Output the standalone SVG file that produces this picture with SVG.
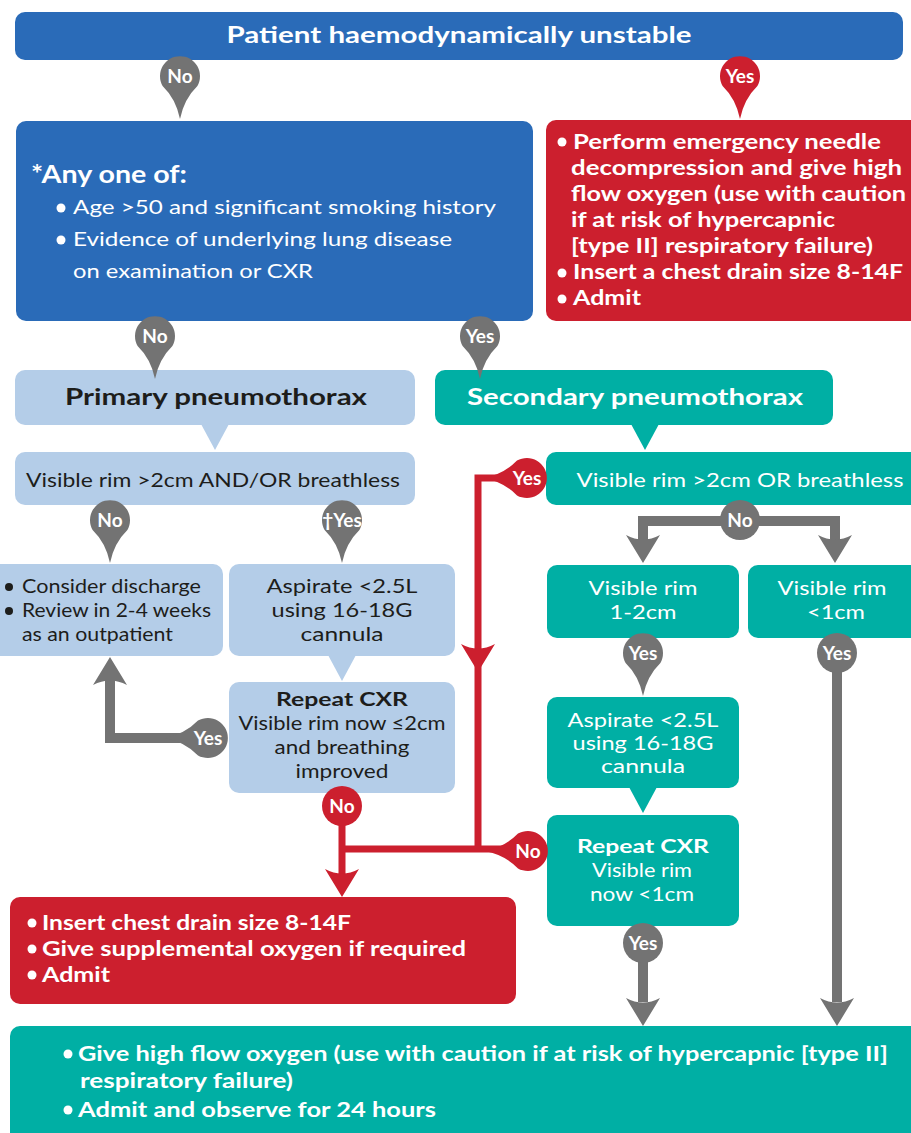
<svg xmlns="http://www.w3.org/2000/svg" xmlns:xlink="http://www.w3.org/1999/xlink" width="911" height="1133" viewBox="0 0 911 1133">
<defs>
<style>
.db{fill:#2a6bb8}.rd{fill:#cc1f2e}.lb{fill:#b4cde8}.tl{fill:#00afa4}.gr{fill:#737373}
text{font-family:Lato,"Noto Sans","Liberation Sans",sans-serif;font-size:20px}
.w{fill:#fff}.k{fill:#1d1d1b}.b{font-weight:700}.c{text-anchor:middle}
.s19{font-size:19px}.s22{font-size:22px}.s24{font-size:24px}.s195{font-size:19.5px}
.pt{font-size:19px;font-weight:700;fill:#fff;text-anchor:middle}
.lg{fill:none;stroke:#737373;stroke-width:10}
.lr{fill:none;stroke:#cc1f2e;stroke-width:7}
</style>
<path id="pin" d="M0,43 Q-4,23 -17.4,10 A20,20 0 1 1 17.4,10 Q4,23 0,43 Z"/>
<path id="ah" d="M0,0 L-17,-28 Q0,-19 17,-28 Z"/>
</defs>
<rect width="911" height="1133" fill="#fff"/>

<g id="n-top">
<rect class="db" x="15" y="12" width="888" height="48" rx="10"/>
<text class="w b s22 c" x="459" y="43" textLength="465" lengthAdjust="spacingAndGlyphs">Patient haemodynamically unstable</text>
</g>

<g id="n-anyone">
<rect class="db" x="16" y="121" width="517" height="200" rx="10"/>
<text class="w b s24" x="31" y="183" textLength="156" lengthAdjust="spacingAndGlyphs">*Any one of:</text>
<circle class="w" cx="61" cy="208" r="4.5"/>
<circle class="w" cx="61" cy="240" r="4.5"/>
<text class="w" x="73" y="214" textLength="423" lengthAdjust="spacingAndGlyphs">Age &gt;50 and significant smoking history</text>
<text class="w" x="73" y="246" textLength="379" lengthAdjust="spacingAndGlyphs">Evidence of underlying lung disease</text>
<text class="w" x="73" y="278" textLength="240" lengthAdjust="spacingAndGlyphs">on examination or CXR</text>
</g>

<g id="n-emergency">
<rect class="rd" x="546" y="120" width="380" height="201" rx="10"/>
<circle class="w" cx="562" cy="142" r="4.5"/>
<circle class="w" cx="562" cy="273" r="4.5"/>
<circle class="w" cx="562" cy="299" r="4.5"/>
<text class="w b" x="573" y="149" textLength="308" lengthAdjust="spacingAndGlyphs">Perform emergency needle</text>
<text class="w b" x="571" y="175" textLength="331" lengthAdjust="spacingAndGlyphs">decompression and give high</text>
<text class="w b" x="571" y="201" textLength="335" lengthAdjust="spacingAndGlyphs">flow oxygen (use with caution</text>
<text class="w b" x="571" y="227" textLength="264" lengthAdjust="spacingAndGlyphs">if at risk of hypercapnic</text>
<text class="w b" x="571" y="253" textLength="302" lengthAdjust="spacingAndGlyphs">[type II] respiratory failure)</text>
<text class="w b" x="573" y="279" textLength="330" lengthAdjust="spacingAndGlyphs">Insert a chest drain size 8-14F</text>
<text class="w b" x="573" y="305" textLength="68" lengthAdjust="spacingAndGlyphs">Admit</text>
</g>

<g id="n-primary">
<rect class="lb" x="15" y="370" width="400" height="55" rx="10"/>
<path class="lb" d="M201,424 L229,424 L215,450 Z"/>
<text class="k b s22 c" x="216" y="405" textLength="302" lengthAdjust="spacingAndGlyphs">Primary pneumothorax</text>
</g>

<g id="n-secondary">
<rect class="tl" x="435" y="370" width="398" height="55" rx="10"/>
<path class="tl" d="M631,424 L659,424 L645,450 Z"/>
<text class="w b s22 c" x="635" y="405" textLength="336" lengthAdjust="spacingAndGlyphs">Secondary pneumothorax</text>
</g>

<g id="n-p-rim">
<rect class="lb" x="15" y="452" width="400" height="53" rx="10"/>
<text class="k c" x="213" y="487" textLength="374" lengthAdjust="spacingAndGlyphs">Visible rim &gt;2cm AND/OR breathless</text>
</g>

<g id="n-s-rim">
<rect class="tl" x="546" y="452" width="380" height="53" rx="10"/>
<text class="w c" x="740" y="487" textLength="327" lengthAdjust="spacingAndGlyphs">Visible rim &gt;2cm OR breathless</text>
</g>

<g id="n-discharge">
<rect class="lb" x="-10" y="564" width="233" height="92" rx="10"/>
<circle class="k" cx="9" cy="587" r="4"/>
<circle class="k" cx="9" cy="611" r="4"/>
<text class="k s19" x="22" y="593" textLength="179" lengthAdjust="spacingAndGlyphs">Consider discharge</text>
<text class="k s19" x="22" y="617" textLength="189" lengthAdjust="spacingAndGlyphs">Review in 2-4 weeks</text>
<text class="k s19" x="22" y="641" textLength="151" lengthAdjust="spacingAndGlyphs">as an outpatient</text>
</g>

<g id="n-p-aspirate">
<rect class="lb" x="229" y="564" width="226" height="92" rx="10"/>
<path class="lb" d="M328,655 L356,655 L342,681 Z"/>
<text class="k c s195" x="342" y="593" textLength="151" lengthAdjust="spacingAndGlyphs">Aspirate &lt;2.5L</text>
<text class="k c s195" x="342" y="617" textLength="141" lengthAdjust="spacingAndGlyphs">using 16-18G</text>
<text class="k c s195" x="342" y="641" textLength="83" lengthAdjust="spacingAndGlyphs">cannula</text>
</g>

<g id="n-p-repeat">
<rect class="lb" x="229" y="682" width="226" height="111" rx="10"/>
<text class="k b c s195" x="342" y="706" textLength="132" lengthAdjust="spacingAndGlyphs">Repeat CXR</text>
<text class="k c s195" x="342" y="730" textLength="207" lengthAdjust="spacingAndGlyphs">Visible rim now ≤2cm</text>
<text class="k c s195" x="342" y="754" textLength="135" lengthAdjust="spacingAndGlyphs">and breathing</text>
<text class="k c s195" x="342" y="778" textLength="93" lengthAdjust="spacingAndGlyphs">improved</text>
</g>

<g id="n-s-rim12">
<rect class="tl" x="547" y="565" width="192" height="73" rx="10"/>
<text class="w c s195" x="643" y="595" textLength="109" lengthAdjust="spacingAndGlyphs">Visible rim</text>
<text class="w c s195" x="643" y="619" textLength="67" lengthAdjust="spacingAndGlyphs">1-2cm</text>
</g>

<g id="n-s-rim1">
<rect class="tl" x="748" y="565" width="180" height="73" rx="10"/>
<text class="w c s195" x="832" y="595" textLength="109" lengthAdjust="spacingAndGlyphs">Visible rim</text>
<text class="w c s195" x="836" y="619" textLength="58" lengthAdjust="spacingAndGlyphs">&lt;1cm</text>
</g>

<g id="n-s-aspirate">
<rect class="tl" x="547" y="697" width="192" height="91" rx="10"/>
<path class="tl" d="M629,787 L657,787 L643,813 Z"/>
<text class="w c s195" x="643" y="727" textLength="151" lengthAdjust="spacingAndGlyphs">Aspirate &lt;2.5L</text>
<text class="w c s195" x="643" y="750" textLength="141" lengthAdjust="spacingAndGlyphs">using 16-18G</text>
<text class="w c s195" x="643" y="773" textLength="84" lengthAdjust="spacingAndGlyphs">cannula</text>
</g>

<g id="n-s-repeat">
<rect class="tl" x="547" y="815" width="192" height="111" rx="10"/>
<text class="w b c s195" x="643" y="853" textLength="132" lengthAdjust="spacingAndGlyphs">Repeat CXR</text>
<text class="w c s195" x="642" y="877" textLength="100" lengthAdjust="spacingAndGlyphs">Visible rim</text>
<text class="w c s195" x="642" y="901" textLength="104" lengthAdjust="spacingAndGlyphs">now &lt;1cm</text>
</g>

<g id="n-drain">
<rect class="rd" x="10" y="897" width="506" height="107" rx="10"/>
<circle class="w" cx="32" cy="923" r="4.5"/>
<circle class="w" cx="32" cy="949" r="4.5"/>
<circle class="w" cx="32" cy="975" r="4.5"/>
<text class="w b" x="42" y="930" textLength="309" lengthAdjust="spacingAndGlyphs">Insert chest drain size 8-14F</text>
<text class="w b" x="42" y="956" textLength="424" lengthAdjust="spacingAndGlyphs">Give supplemental oxygen if required</text>
<text class="w b" x="42" y="982" textLength="68" lengthAdjust="spacingAndGlyphs">Admit</text>
</g>

<g id="n-oxygen">
<rect class="tl" x="10" y="1026" width="920" height="130" rx="10"/>
<circle class="w" cx="68" cy="1054" r="4.5"/>
<circle class="w" cx="68" cy="1110" r="4.5"/>
<text class="w b" x="78" y="1061" textLength="810" lengthAdjust="spacingAndGlyphs">Give high flow oxygen (use with caution if at risk of hypercapnic [type II]</text>
<text class="w b" x="80" y="1088" textLength="213" lengthAdjust="spacingAndGlyphs">respiratory failure)</text>
<text class="w b" x="78" y="1117" textLength="358" lengthAdjust="spacingAndGlyphs">Admit and observe for 24 hours</text>
</g>

<g id="connectors">
<path class="lg" d="M180,738 H110 V680"/>
<use href="#ah" class="gr" transform="translate(110,657) rotate(180)"/>
<path class="lg" d="M643,540 V521 H835 V540"/>
<use href="#ah" class="gr" transform="translate(643,563)"/>
<use href="#ah" class="gr" transform="translate(835,563)"/>
<path class="lg" d="M837,660 V1002"/>
<use href="#ah" class="gr" transform="translate(837,1026)"/>
<path class="lg" d="M643,950 V1002"/>
<use href="#ah" class="gr" transform="translate(643,1026)"/>
<path class="lr" d="M505,478 H478 V852 M510,849 H342 M342,810 V875"/>
<use href="#ah" class="rd" transform="translate(478,672)"/>
<use href="#ah" class="rd" transform="translate(342,897)"/>

<use href="#pin" class="gr" transform="translate(180,76)"/>
<text class="pt" x="180" y="82.5">No</text>
<use href="#pin" class="rd" transform="translate(740,76)"/>
<text class="pt" x="740" y="82.5">Yes</text>
<use href="#pin" class="gr" transform="translate(155,336)"/>
<text class="pt" x="155" y="342.5">No</text>
<use href="#pin" class="gr" transform="translate(480,336)"/>
<text class="pt" x="480" y="342.5">Yes</text>
<use href="#pin" class="gr" transform="translate(110,520)"/>
<text class="pt" x="110" y="526.5">No</text>
<use href="#pin" class="gr" transform="translate(342,520)"/>
<text class="pt" x="342" y="526.5">†Yes</text>
<use href="#pin" class="rd" transform="translate(527,478) rotate(90)"/>
<text class="pt" x="527" y="484.5">Yes</text>
<circle class="gr" cx="740" cy="520" r="20"/>
<text class="pt" x="740" y="526.5">No</text>
<use href="#pin" class="gr" transform="translate(643,653)"/>
<text class="pt" x="643" y="659.5">Yes</text>
<circle class="gr" cx="837" cy="653" r="20"/>
<text class="pt" x="837" y="659.5">Yes</text>
<use href="#pin" class="gr" transform="translate(208,738) rotate(90)"/>
<text class="pt" x="208" y="744.5">Yes</text>
<circle class="rd" cx="342" cy="806" r="20"/>
<text class="pt" x="342" y="812.5">No</text>
<use href="#pin" class="rd" transform="translate(528,851) rotate(90)"/>
<text class="pt" x="528" y="857.5">No</text>
<circle class="gr" cx="643" cy="943" r="20"/>
<text class="pt" x="643" y="949.5">Yes</text>
</g>
</svg>
